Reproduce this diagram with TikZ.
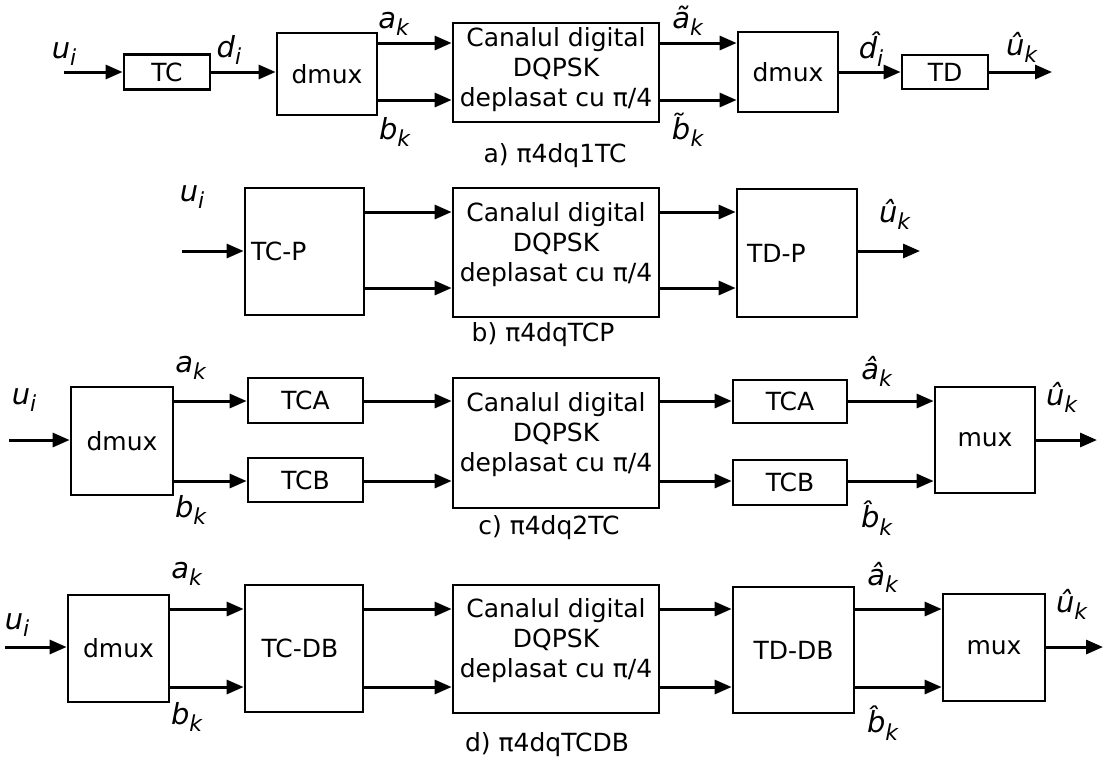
\documentclass[tikz,border=0pt]{standalone}
\usepackage{fontspec}
\setmainfont{DejaVu Sans}
\usetikzlibrary{arrows.meta,positioning}
\newcommand{\sig}[2]{\textit{#1}\raisebox{-0.45ex}{\fontsize{11}{12}\selectfont\textit{#2}}}

\begin{document}
\begin{tikzpicture}[
  x=0.5pt,y=-0.5pt,
  font=\fontsize{12.5}{15}\selectfont,
  blk/.style={draw,line width=1.4pt,inner sep=0pt,align=center},
  lblk/.style={blk,align=left,inner xsep=3pt},
  chan/.style={blk,minimum width=103pt,text depth=11pt},
  arr/.style={-{Triangle[length=8.5pt,width=7pt]},line width=1.5pt},
  lbl/.style={inner sep=0pt,font=\fontsize{14.5}{16}\selectfont},
  capt/.style={inner sep=0pt}
]
\useasboundingbox (0,0) rectangle (1106,761);

% ---- a) one TC, dmux before the channel ----
\coordinate (ina)  at (64,72);
\coordinate (outa) at (1052,72);
\coordinate (ra1)  at (0,43);
\coordinate (ra2)  at (0,100);
\node[blk,minimum width=43pt,minimum height=17.5pt]  (tca)    at (167,72)    {TC};
\node[blk,minimum width=50pt,minimum height=41pt]    (dmuxa)  at (327,74)    {dmux};
\node[chan,minimum height=49.5pt,text depth=6pt]     (chana)  at (556,72.5)  {Canalul digital\\DQPSK\\deplasat cu π/4};
\node[blk,minimum width=50pt,minimum height=40pt]    (dmuxa2) at (788,72)    {dmux};
\node[blk,minimum width=43pt,minimum height=17pt]    (tda)    at (945,72)    {TD};

\draw[arr] (ina) -- (ina -| tca.west);
\draw[arr] (tca.east) -- (tca.east -| dmuxa.west);
\draw[arr] (dmuxa.east |- ra1) -- (chana.west |- ra1);
\draw[arr] (dmuxa.east |- ra2) -- (chana.west |- ra2);
\draw[arr] (chana.east |- ra1) -- (dmuxa2.west |- ra1);
\draw[arr] (chana.east |- ra2) -- (dmuxa2.west |- ra2);
\draw[arr] (dmuxa2.east |- tda) -- (tda.west);
\draw[arr] (tda.east) -- (outa);

\node[lbl] (uia)  at (64,54)   {\sig{u}{i}};
\node[lbl] (dia)  at (229,50)  {\sig{d}{i}};
\node[lbl] (aka)  at (394,24)  {\sig{a}{k}};
\node[lbl] (bka)  at (395,132) {\sig{b}{k}};
\node[lbl] (ata)  at (688,21)  {\sig{\~{a}}{k}};
\node[lbl] (bta)  at (688,130) {\sig{\~{b}}{k}};
\node[lbl] (dha)  at (871,49)  {\sig{\^{d}}{i}};
\node[lbl] (uha)  at (1022,47) {\sig{\^{u}}{k}};
\node[capt] (capa) at (555,156) {a) π4dq1TC};

% ---- b) parallel TC ----
\coordinate (inb)  at (182,251);
\coordinate (outb) at (920,251);
\coordinate (rb1)  at (0,212);
\coordinate (rb2)  at (0,288);
\node[lblk,minimum width=59.5pt,minimum height=63.5pt,text width=53.5pt] (tcpb) at (304.5,251.5) {TC-P};
\node[chan,minimum height=64.5pt]                                     (chanb) at (556,252.5) {Canalul digital\\DQPSK\\deplasat cu π/4};
\node[lblk,minimum width=60pt,minimum height=64pt,text width=54pt]     (tdpb) at (797,253)     {\hspace{2pt}TD-P};

\draw[arr] (inb) -- (inb -| tcpb.west);
\draw[arr] (tcpb.east |- rb1) -- (chanb.west |- rb1);
\draw[arr] (tcpb.east |- rb2) -- (chanb.west |- rb2);
\draw[arr] (chanb.east |- rb1) -- (tdpb.west |- rb1);
\draw[arr] (chanb.east |- rb2) -- (tdpb.west |- rb2);
\draw[arr] (tdpb.east |- outb) -- (outb);

\node[lbl] (uib) at (192,197) {\sig{u}{i}};
\node[lbl] (uhb) at (895,214) {\sig{\^{u}}{k}};
\node[capt] (capb) at (543,335) {b) π4dqTCP};

% ---- c) two TC, one per branch ----
\coordinate (inc)  at (9,440);
\coordinate (outc) at (1097,440);
\coordinate (rc1)  at (0,401);
\coordinate (rc2)  at (0,481);
\node[blk,minimum width=51pt,minimum height=54pt]     (dmuxc) at (122,441)     {dmux};
\node[blk,minimum width=57.5pt,minimum height=22.5pt] (tcac)  at (305.5,400.5) {TCA};
\node[blk,minimum width=57.5pt,minimum height=22pt]   (tcbc)  at (305.5,480)   {TCB};
\node[chan,minimum height=65pt]                       (chanc) at (556,443)     {Canalul digital\\DQPSK\\deplasat cu π/4};
\node[blk,minimum width=57pt,minimum height=21.5pt]   (tdac)  at (790,401.5)   {TCA};
\node[blk,minimum width=57pt,minimum height=22.5pt]   (tdbc)  at (790,482.5)   {TCB};
\node[blk,minimum width=50pt,minimum height=53pt]     (muxc)  at (985,440)     {mux};

\draw[arr] (inc) -- (inc -| dmuxc.west);
\draw[arr] (dmuxc.east |- rc1) -- (tcac.west |- rc1);
\draw[arr] (dmuxc.east |- rc2) -- (tcbc.west |- rc2);
\draw[arr] (tcac.east |- rc1) -- (chanc.west |- rc1);
\draw[arr] (tcbc.east |- rc2) -- (chanc.west |- rc2);
\draw[arr] (chanc.east |- rc1) -- (tdac.west |- rc1);
\draw[arr] (chanc.east |- rc2) -- (tdbc.west |- rc2);
\draw[arr] (tdac.east |- rc1) -- (muxc.west |- rc1);
\draw[arr] (tdbc.east |- rc2) -- (muxc.west |- rc2);
\draw[arr] (muxc.east |- outc) -- (outc);

\node[lbl] (uic) at (24,400)   {\sig{u}{i}};
\node[lbl] (akc) at (191,368)  {\sig{a}{k}};
\node[lbl] (bkc) at (191,510)  {\sig{b}{k}};
\node[lbl] (ahc) at (877,371)  {\sig{\^{a}}{k}};
\node[lbl] (bhc) at (877,518)  {\sig{\^{b}}{k}};
\node[lbl] (uhc) at (1062,397) {\sig{\^{u}}{k}};
\node[capt] (capc) at (549,528) {c) π4dq2TC};

% ---- d) TC-DB ----
\coordinate (ind)  at (5,647);
\coordinate (outd) at (1103,647);
\coordinate (rd1)  at (0,609);
\coordinate (rd2)  at (0,687);
\node[blk,minimum width=50.5pt,minimum height=53.5pt] (dmuxd) at (118.5,648.5) {dmux};
\node[blk,minimum width=59pt,minimum height=63.5pt]   (tcdb)  at (304,648.5)   {TC-DB\hspace{4pt}};
\node[chan,minimum height=64pt]                       (chand) at (556,649)     {Canalul digital\\DQPSK\\deplasat cu π/4};
\node[blk,minimum width=60.5pt,minimum height=63pt]   (tddb)  at (793.5,650)   {TD-DB};
\node[blk,minimum width=51pt,minimum height=53.5pt]   (muxd)  at (994,647.5)   {mux};

\draw[arr] (ind) -- (ind -| dmuxd.west);
\draw[arr] (dmuxd.east |- rd1) -- (tcdb.west |- rd1);
\draw[arr] (dmuxd.east |- rd2) -- (tcdb.west |- rd2);
\draw[arr] (tcdb.east |- rd1) -- (chand.west |- rd1);
\draw[arr] (tcdb.east |- rd2) -- (chand.west |- rd2);
\draw[arr] (chand.east |- rd1) -- (tddb.west |- rd1);
\draw[arr] (chand.east |- rd2) -- (tddb.west |- rd2);
\draw[arr] (tddb.east |- rd1) -- (muxd.west |- rd1);
\draw[arr] (tddb.east |- rd2) -- (muxd.west |- rd2);
\draw[arr] (muxd.east |- outd) -- (outd);

\node[lbl] (uid) at (17,625)   {\sig{u}{i}};
\node[lbl] (akd) at (187,574)  {\sig{a}{k}};
\node[lbl] (bkd) at (187,717)  {\sig{b}{k}};
\node[lbl] (ahd) at (883,577)  {\sig{\^{a}}{k}};
\node[lbl] (bhd) at (883,723)  {\sig{\^{b}}{k}};
\node[lbl] (uhd) at (1072,604) {\sig{\^{u}}{k}};
\node[capt] (capd) at (547,745) {d) π4dqTCDB};
\end{tikzpicture}
\end{document}
